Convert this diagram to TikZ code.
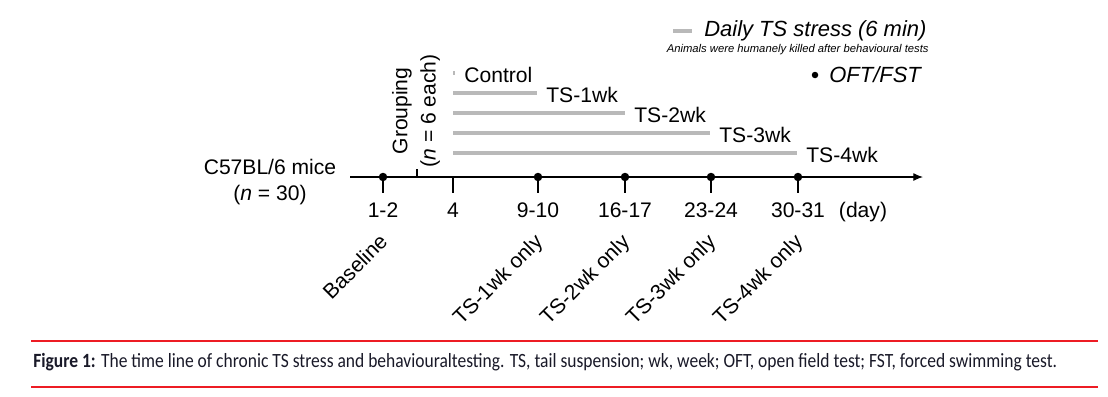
\documentclass[tikz,border=0pt]{standalone}
\usepackage{fontspec}
\usepackage{graphicx}
\setmainfont{Liberation Sans}
\newfontfamily\capfont{Carlito}
\usetikzlibrary{arrows.meta}
\definecolor{bargray}{RGB}{185,185,185}
\definecolor{capred}{RGB}{237,28,36}
\definecolor{captext}{RGB}{25,25,40}

\begin{document}
\begin{tikzpicture}[x=0.02cm,y=-0.02cm,
	lbl/.style={font=\fontsize{12}{15}\selectfont,inner sep=0pt},
	lblit/.style={inner sep=0pt,font=\fontsize{12.5}{15}\selectfont\itshape},
	dot/.style={circle,fill,inner sep=0pt,minimum size=0.17cm},
	bar/.style={bargray,line width=2pt},
	rule/.style={capred,line width=1.6pt}]
	\useasboundingbox (0,0) rectangle (1108,396);

	% time axis
	\coordinate (t0) at (350,177);
	\coordinate (t1) at (923,177);
	\draw[line width=0.6pt,-{Latex[length=5.5pt,width=4.5pt]}] (t0) -- (t1);
	\node[lbl,align=center,font=\fontsize{12}{15.3}\selectfont] (mice) at (270,182)
		{C57BL/6 mice\\(\textit{n} = 30)};

	% test days
	\foreach \x/\n/\d in {383/b/1-2, 538/w1/9-10, 625/w2/16-17, 711/w3/23-24, 798/w4/30-31} {
		\node[dot] (dot\n) at (\x,177) {};
		\coordinate (tk\n) at (\x,193);
		\draw[line width=0.6pt] (dot\n.center) -- (tk\n);
		\node[lbl,anchor=base] (day\n) at (\x,217) {\d};
	}
	\foreach \x/\n/\t in {383/b/Baseline, 538/w1/TS-1wk only, 625/w2/TS-2wk only,
		711/w3/TS-3wk only, 798/w4/TS-4wk only}
		\node[lbl,anchor=base east,rotate=45] (test\n) at (\x+6,243) {\t};

	% grouping and start of stress
	\coordinate (g0) at (417,177);
	\coordinate (g1) at (417,169);
	\draw[line width=0.6pt] (g0) -- (g1);
	\node[lbl,rotate=90,align=center,font=\fontsize{12}{16}\selectfont] (grp) at (416,111)
		{Grouping\\(\textit{n} = 6 each)};
	\coordinate (d4) at (453,177);
	\coordinate (d4b) at (453,193);
	\draw[line width=0.6pt] (d4) -- (d4b);
	\node[lbl,anchor=base] (day4) at (453,217) {4};
	\node[lbl,anchor=base] (unit) at (863,217) {(day)};

	% groups
	\foreach \e/\y/\t in {455/73/Control, 537/93/TS-1wk, 625/113/TS-2wk,
		710/133/TS-3wk, 797/153/TS-4wk} {
		\coordinate (bs\t) at (453,\y);
		\coordinate (be\t) at (\e,\y);
		\draw[bar] (bs\t) -- (be\t);
		\node[lbl,anchor=base west] (grp\t) at ([shift={(9,9)}]be\t) {\t};
	}

	% legend
	\coordinate (k0) at (673,31);
	\coordinate (k1) at (692,31);
	\draw[bar] (k0) -- (k1);
	\node[lblit,anchor=base west] (daily) at (704,36) {Daily TS stress (6 min)};
	\node[inner sep=0pt,anchor=base east,font=\fontsize{6.4}{8}\selectfont\itshape] (killed)
		at (929,52) {Animals were humanely killed after behavioural tests};
	\node[dot,minimum size=0.13cm] (kdot) at (815,75) {};
	\node[lblit,anchor=base west] (oft) at (829,82) {OFT/FST};

	% caption
	\coordinate (r1a) at (31,341);
	\coordinate (r1b) at (1098,341);
	\coordinate (r2a) at (31,387);
	\coordinate (r2b) at (1098,387);
	\draw[rule] (r1a) -- (r1b);
	\draw[rule] (r2a) -- (r2b);
	\node[inner sep=0pt,anchor=base west,text=captext,font=\capfont\fontsize{11.5}{13}\selectfont]
		(cap) at (33,367) {\resizebox{20.48cm}{\height}{\textbf{Figure 1:} The time line of chronic TS stress and behaviouraltesting. TS, tail suspension; wk, week; OFT, open field test; FST, forced swimming test.}};
\end{tikzpicture}
\end{document}
